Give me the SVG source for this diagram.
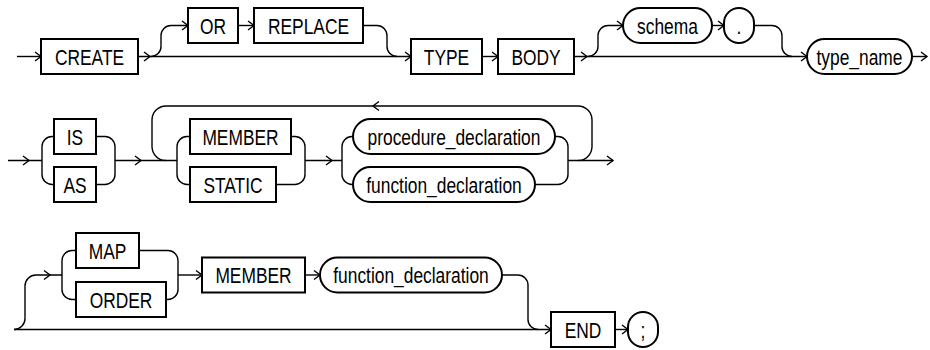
<svg xmlns="http://www.w3.org/2000/svg" xmlns:xlink="http://www.w3.org/1999/xlink" width="930" height="350" viewBox="0 0 930 350">
<style>
.box{fill:#fff;stroke:#000;stroke-width:2}
.ln{fill:none;stroke:#000;stroke-width:1.4}
.t{font-family:"Liberation Sans",Arial,sans-serif;font-size:22px;text-anchor:middle;fill:#000}
</style>
<defs>
<path id="ar" d="M-6,-4.5 L0,0 L-6,4.5" fill="none" stroke="#000" stroke-width="1.4"/>
<path id="al" d="M6,-4.5 L0,0 L6,4.5" fill="none" stroke="#000" stroke-width="1.4"/>
</defs>
<rect width="930" height="350" fill="#fff"/>
<g id="connectors">
<!-- row 1 -->
<path class="ln" d="M17,56.5 H41"/>
<path class="ln" d="M138,56.5 H411"/>
<path class="ln" d="M151,56.5 A10,10 0 0 0 161,46.5 V35.5 A10,10 0 0 1 171,25.5 H188"/>
<path class="ln" d="M238,25.5 H254"/>
<path class="ln" d="M363,25.5 H377 A10,10 0 0 1 387,35.5 V46.5 A10,10 0 0 0 397,56.5"/>
<path class="ln" d="M482,56.5 H498"/>
<path class="ln" d="M574,56.5 H807"/>
<path class="ln" d="M588,56.5 A10,10 0 0 0 598,46.5 V35.5 A10,10 0 0 1 608,25.5 H623"/>
<path class="ln" d="M712,25.5 H724"/>
<path class="ln" d="M754,25.5 H772 A10,10 0 0 1 782,35.5 V46.5 A10,10 0 0 0 792,56.5"/>
<path class="ln" d="M912,56.5 H927"/>
<use href="#ar" x="41" y="56.5"/>
<use href="#ar" x="150" y="56.5"/>
<use href="#ar" x="188" y="25.5"/>
<use href="#ar" x="254" y="25.5"/>
<use href="#ar" x="411" y="56.5"/>
<use href="#ar" x="498" y="56.5"/>
<use href="#ar" x="587" y="56.5"/>
<use href="#ar" x="623" y="25.5"/>
<use href="#ar" x="724" y="25.5"/>
<use href="#ar" x="807" y="56.5"/>
<use href="#ar" x="927" y="56.5"/>
<!-- row 2 -->
<path class="ln" d="M8,160.5 H42"/>
<path class="ln" d="M54,136.5 H52 A10,10 0 0 0 42,146.5 V174.5 A10,10 0 0 0 52,184.5 H54"/>
<path class="ln" d="M96,136.5 H105 A10,10 0 0 1 115,146.5 V174.5 A10,10 0 0 1 105,184.5 H96"/>
<path class="ln" d="M115,160.5 H177"/>
<path class="ln" d="M578,160.5 A14,14 0 0 0 592,146.5 V120 A14,14 0 0 0 578,106 H166 A14,14 0 0 0 152,120 V146.5 A14,14 0 0 0 166,160.5"/>
<path class="ln" d="M190,136.5 H187 A10,10 0 0 0 177,146.5 V174.5 A10,10 0 0 0 187,184.5 H190"/>
<path class="ln" d="M291,136.5 H295 A10,10 0 0 1 305,146.5 V174.5 A10,10 0 0 1 295,184.5 H276"/>
<path class="ln" d="M305,160.5 H342"/>
<path class="ln" d="M353,136.5 H352 A10,10 0 0 0 342,146.5 V174.5 A10,10 0 0 0 352,184.5 H353"/>
<path class="ln" d="M555,136.5 H558 A10,10 0 0 1 568,146.5 V174.5 A10,10 0 0 1 558,184.5 H535"/>
<path class="ln" d="M568,160.5 H613"/>
<use href="#ar" x="29" y="160.5"/>
<use href="#ar" x="141" y="160.5"/>
<use href="#ar" x="332" y="160.5"/>
<use href="#ar" x="613" y="160.5"/>
<use href="#al" x="373" y="106"/>
<!-- row 3 -->
<path class="ln" d="M14,329.5 H551"/>
<path class="ln" d="M14,329.5 A11,11 0 0 0 25,318.5 V286 A11,11 0 0 1 36,275 H62"/>
<path class="ln" d="M76,250.5 H72 A10,10 0 0 0 62,260.5 V289.5 A10,10 0 0 0 72,299.5 H76"/>
<path class="ln" d="M139,250.5 H168 A10,10 0 0 1 178,260.5 V289.5 A10,10 0 0 1 168,299.5 H166"/>
<path class="ln" d="M178,275 H202"/>
<path class="ln" d="M305,275 H320"/>
<path class="ln" d="M502,275 H518 A10,10 0 0 1 528,285 V319.5 A10,10 0 0 0 538,329.5"/>
<path class="ln" d="M615,329.5 H628"/>
<use href="#ar" x="50" y="275"/>
<use href="#ar" x="202" y="275"/>
<use href="#ar" x="320" y="275"/>
<use href="#ar" x="551" y="329.5"/>
<use href="#ar" x="628" y="329.5"/>
</g>
<g id="n_create"><rect class="box" x="41" y="39" width="97" height="35"/><text class="t" transform="translate(89.5,64.5) scale(0.79,1)">CREATE</text></g>
<g id="n_or"><rect class="box" x="188" y="8" width="50" height="35"/><text class="t" transform="translate(213,33.5) scale(0.79,1)">OR</text></g>
<g id="n_replace"><rect class="box" x="254" y="8" width="109" height="35"/><text class="t" transform="translate(308.5,33.5) scale(0.79,1)">REPLACE</text></g>
<g id="n_type"><rect class="box" x="411" y="39" width="71" height="35"/><text class="t" transform="translate(446.5,64.5) scale(0.79,1)">TYPE</text></g>
<g id="n_body"><rect class="box" x="498" y="39" width="76" height="35"/><text class="t" transform="translate(536,64.5) scale(0.79,1)">BODY</text></g>
<g id="n_schema"><rect class="box" x="623" y="8" width="89" height="35" rx="17.5"/><text class="t" transform="translate(667.5,33.5) scale(0.79,1)">schema</text></g>
<g id="n_dot"><rect class="box" x="724" y="8" width="30" height="35" rx="15"/><text class="t" transform="translate(739,33.5) scale(0.79,1)">.</text></g>
<g id="n_type_name"><rect class="box" x="807" y="39" width="105" height="35" rx="17.5"/><text class="t" transform="translate(859.5,64.5) scale(0.79,1)">type_name</text></g>
<g id="n_is"><rect class="box" x="54" y="119" width="42" height="35"/><text class="t" transform="translate(75,144.5) scale(0.79,1)">IS</text></g>
<g id="n_as"><rect class="box" x="54" y="167" width="42" height="35"/><text class="t" transform="translate(75,192.5) scale(0.79,1)">AS</text></g>
<g id="n_member1"><rect class="box" x="190" y="119" width="101" height="35"/><text class="t" transform="translate(240.5,144.5) scale(0.79,1)">MEMBER</text></g>
<g id="n_static"><rect class="box" x="190" y="167" width="86" height="35"/><text class="t" transform="translate(233,192.5) scale(0.79,1)">STATIC</text></g>
<g id="n_procedure_declaration"><rect class="box" x="353" y="119" width="202" height="35" rx="17.5"/><text class="t" transform="translate(454,144.5) scale(0.79,1)">procedure_declaration</text></g>
<g id="n_function_declaration1"><rect class="box" x="353" y="167" width="182" height="35" rx="17.5"/><text class="t" transform="translate(444,192.5) scale(0.79,1)">function_declaration</text></g>
<g id="n_map"><rect class="box" x="76" y="233" width="63" height="35"/><text class="t" transform="translate(107.5,258.5) scale(0.79,1)">MAP</text></g>
<g id="n_order"><rect class="box" x="76" y="282" width="90" height="35"/><text class="t" transform="translate(121,307.5) scale(0.79,1)">ORDER</text></g>
<g id="n_member2"><rect class="box" x="202" y="257.5" width="103" height="35"/><text class="t" transform="translate(253.5,283) scale(0.79,1)">MEMBER</text></g>
<g id="n_function_declaration2"><rect class="box" x="320" y="257.5" width="182" height="35" rx="17.5"/><text class="t" transform="translate(411,283) scale(0.79,1)">function_declaration</text></g>
<g id="n_end"><rect class="box" x="551" y="312" width="64" height="35"/><text class="t" transform="translate(583,337.5) scale(0.79,1)">END</text></g>
<g id="n_semicolon"><rect class="box" x="628" y="312" width="30" height="35" rx="15"/><text class="t" transform="translate(643,337.5) scale(0.79,1)">;</text></g>
</svg>
